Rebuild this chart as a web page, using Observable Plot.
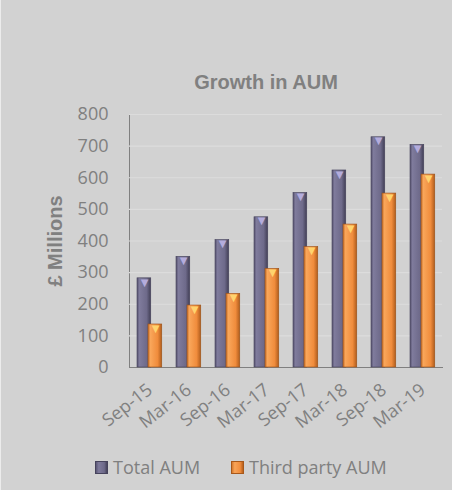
<!DOCTYPE html>
<html>
<head>
<meta charset="utf-8">
<script src="https://cdn.jsdelivr.net/npm/d3@7"></script>
<script src="https://cdn.jsdelivr.net/npm/@observablehq/plot@0.6"></script>
<style>
  body { margin: 0; }
  #wrap { position: relative; width: 452px; height: 490px; background: #d2d2d2; overflow: hidden; border-left: 1px solid #ececec; box-sizing: border-box; }
  #title { position: absolute; top: 71px; left: 88px; width: 354px; text-align: center; font: bold 20px "Liberation Sans", Arial, sans-serif; color: #808080; }
  #chart { position: absolute; top: 100px; left: -1px; }
  #legend { position: absolute; top: 455px; left: 0; width: 452px; font: 18px "Open Sans", sans-serif; color: #808080; }
  .item { position: absolute; display: flex; align-items: center; }
  .sw { width: 13px; height: 13px; margin-right: 5px; box-sizing: border-box; }
</style>
</head>
<body>
<div id="wrap">
  <div id="title">Growth in AUM</div>
  <div id="chart"></div>
  <div id="legend">
    <div class="item" style="left:94px"><div class="sw" style="background:linear-gradient(90deg,#5b5775,#7f7b9c 25%,#6d6989 75%,#45425a);border:1px solid #46435c"></div>Total AUM</div>
    <div class="item" style="left:230px"><div class="sw" style="background:linear-gradient(90deg,#d4782e,#f8a458 25%,#f08c3c 75%,#b8601c);border:1px solid #a8581a"></div>Third party AUM</div>
  </div>
</div>
<script>
const periods = ["Sep-15", "Mar-16", "Sep-16", "Mar-17", "Sep-17", "Mar-18", "Sep-18", "Mar-19"];
const totalAUM = [282, 350, 403, 475, 552, 623, 728, 704];
const thirdPartyAUM = [136, 196, 233, 312, 381, 452, 550, 610];
const yTicks = [0, 100, 200, 300, 400, 500, 600, 700, 800];

const total = periods.map((p, i) => ({period: p, value: totalAUM[i]}));
const third = periods.map((p, i) => ({period: p, value: thirdPartyAUM[i]}));

const plot = Plot.plot({
  width: 452,
  height: 330,
  marginTop: 14,
  marginBottom: 63,
  marginLeft: 129,
  marginRight: 10,
  style: {background: "transparent", color: "#808080", fontFamily: "'Open Sans', sans-serif", fontSize: "18px", overflow: "visible"},
  x: {domain: periods, padding: 0, label: null, tickSize: 0, tickPadding: 20, tickRotate: -38, line: true},
  y: {domain: [0, 800], ticks: yTicks, label: null, tickSize: 0, tickPadding: 21, line: true},
  marks: [
    Plot.ruleY(yTicks.filter(d => d > 0), {stroke: "#dcdcdc", strokeWidth: 1.2}),
    Plot.barY(total, {x: "period", y: "value", fill: "url(#gTotal)", stroke: "#46435c", strokeWidth: 0.6, insetLeft: 7, insetRight: 18.25}),
    Plot.barY(third, {x: "period", y: "value", fill: "url(#gThird)", stroke: "#9c5218", strokeWidth: 0.6, insetLeft: 18, insetRight: 7.25}),
    Plot.text(total, {x: "period", y: "value", text: () => "▼", dx: -5.5, dy: 4, fill: "#b4acdc", fontSize: 10, fontFamily: "DejaVu Sans"}),
    Plot.text(third, {x: "period", y: "value", text: () => "▼", dx: 5.5, dy: 4, fill: "#ffd36e", fontSize: 10, fontFamily: "DejaVu Sans"}),
    Plot.text(["£ Millions"], {frameAnchor: "left", dx: -74, rotate: -90, textAnchor: "middle", fontWeight: "bold", fontSize: 20, fill: "#808080", fontFamily: "'Liberation Sans', Arial, sans-serif"})
  ]
});

const defs = d3.select(plot).insert("defs", ":first-child");
function grad(id, stops) {
  const g = defs.append("linearGradient").attr("id", id).attr("x1", "0%").attr("x2", "100%").attr("y1", "0%").attr("y2", "0%");
  stops.forEach(([o, c]) => g.append("stop").attr("offset", o).attr("stop-color", c));
}
grad("gTotal", [["0%", "#55516e"], ["18%", "#7f7b9c"], ["70%", "#6e6a8a"], ["100%", "#413e55"]]);
grad("gThird", [["0%", "#c8702a"], ["18%", "#f9a65a"], ["70%", "#f08c3c"], ["100%", "#b05c1c"]]);

document.getElementById("chart").appendChild(plot);
</script>
</body>
</html>
